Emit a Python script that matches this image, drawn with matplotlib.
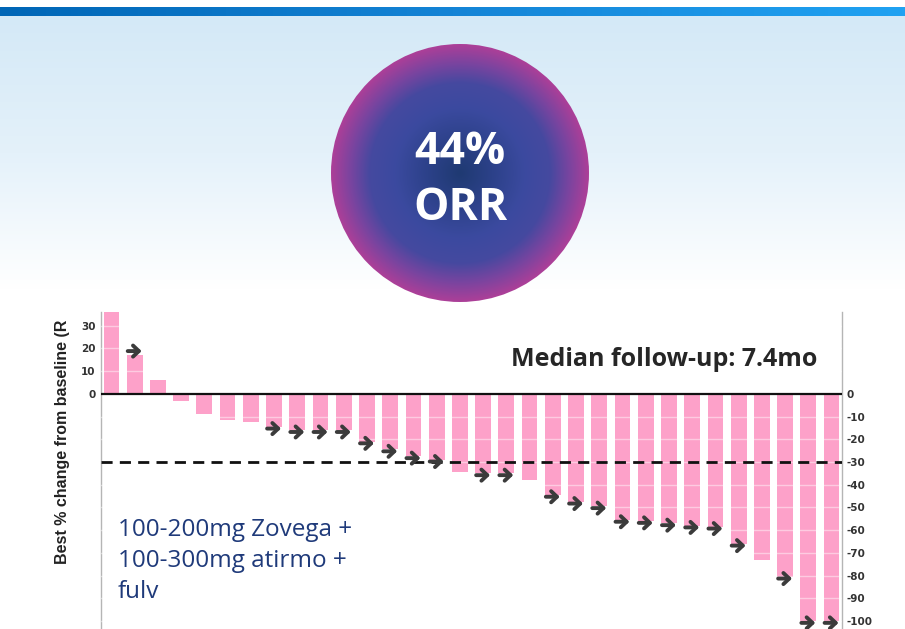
import numpy as np
import matplotlib.pyplot as plt
from matplotlib.colors import LinearSegmentedColormap
from matplotlib.patches import Circle

# Best % change from baseline per patient (waterfall order)
change = [40, 17, 6, -3, -9, -11.5, -12.5, -14.5, -16, -16, -16, -21, -24.5, -27.5,
          -29, -34.5, -35, -35, -38, -44.5, -47.5, -49.5, -55.5, -56, -57, -58,
          -58.5, -66, -73, -80.5, -100, -100]
# 1 = patient still on treatment (arrow)
ongoing = [0, 1, 0, 0, 0, 0, 0, 1, 1, 1, 1, 1, 1, 1,
           1, 0, 1, 1, 0, 1, 1, 1, 1, 1, 1, 1,
           1, 1, 0, 1, 1, 1]
left_ticks = [0, 10, 20, 30]
right_ticks = [0, -10, -20, -30, -40, -50, -60, -70, -80, -90, -100]
pr_threshold = -30
follow_up = "Median follow-up: 7.4mo"
regimen = "100-200mg Zovega +\n100-300mg atirmo +\nfulv"
ylabel = "Best % change from baseline (R"

W, H = 905, 629
fig = plt.figure(figsize=(W / 100, H / 100), dpi=100)

# slide background: header bar + light blue wash
bg = fig.add_axes([0, 0, 1, 1])
bg.set_xlim(0, W)
bg.set_ylim(H, 0)
bg.axis("off")
wash = LinearSegmentedColormap.from_list("wash", ["#d4e9f7", "#e4f1fa", "#ffffff"])
bg.imshow(np.linspace(0, 1, 256)[:, None], cmap=wash, aspect="auto",
          extent=(0, W, 290, 16), zorder=0)
bar_cm = LinearSegmentedColormap.from_list("hdr", ["#0066b6", "#1484d6", "#20a2f2"])
bg.imshow(np.linspace(0, 1, 256)[None, :], cmap=bar_cm, aspect="auto",
          extent=(0, W, 16, 7), zorder=1)

# ORR bubble with radial gradient
cx, cy, rad = 460, 173, 129
xs = np.linspace(cx - rad, cx + rad, 400)
ys = np.linspace(cy - rad, cy + rad, 400)
gx, gy = np.meshgrid(xs, ys)
rr = np.sqrt((gx - cx) ** 2 + (gy - cy) ** 2) / rad
bubble = LinearSegmentedColormap.from_list(
    "bubble", [(0, "#1f3a72"), (0.25, "#2c4189"), (0.5, "#3b4a9f"),
               (0.7, "#4549a0"), (0.86, "#7c449f"), (1, "#ac3f98")])
im = bg.imshow(np.clip(rr, 0, 1), cmap=bubble, vmin=0, vmax=1,
               extent=(cx - rad, cx + rad, cy + rad, cy - rad), zorder=2)
circ = Circle((cx, cy), rad, transform=bg.transData, facecolor="none", edgecolor="none")
bg.add_patch(circ)
im.set_clip_path(circ)
bg.text(cx, 152, "44%", color="white", fontsize=32, fontweight="bold",
        family="Open Sans", ha="center", va="center", zorder=3)
bg.text(cx, 209, "ORR", color="white", fontsize=32, fontweight="bold",
        family="Open Sans", ha="center", va="center", zorder=3)

# waterfall plot
ax = fig.add_axes([101 / W, 0, (842 - 101) / W, (H - 312) / H])
ax.set_facecolor("white")
x = np.arange(len(change))
ax.bar(x, change, width=0.68, color="#fda1c9", zorder=2)
ax.set_xlim(-0.45, len(change) - 0.55)
ax.set_ylim(-103.5, 36)

for g in range(-100, 40, 10):
    if g != 0:
        ax.axhline(g, color="white", lw=1, alpha=0.45, zorder=3)
ax.axhline(0, color="#111111", lw=1.6, zorder=4)
ax.axhline(pr_threshold, color="#111111", lw=2, ls=(0, (4, 2.6)), zorder=4)

# arrows for ongoing patients
for xi, v, on in zip(x, change, ongoing):
    if on:
        yy = v + 1.8 if v > 0 else v - 0.8
        ax.annotate("", xy=(xi + 0.3, yy), xytext=(xi - 0.3, yy),
                    arrowprops=dict(arrowstyle="->,head_length=0.42,head_width=0.4",
                                    lw=2.8, color="#3b3b3b", shrinkA=0, shrinkB=0,
                                    capstyle="round", joinstyle="round"),
                    zorder=5, annotation_clip=False)

for s in ["top", "bottom"]:
    ax.spines[s].set_visible(False)
for s in ["left", "right"]:
    ax.spines[s].set_color("#b5b5b5")
    ax.spines[s].set_linewidth(1)
ax.set_xticks([])
narrow = ["Liberation Sans Narrow", "DejaVu Sans"]
ax.set_yticks(left_ticks)
ax.set_yticklabels([str(t) for t in left_ticks], fontsize=7.5, fontweight="bold",
                   family=narrow, color="#333333")
ax.tick_params(axis="y", length=0, pad=4)

ax2 = ax.twinx()
ax2.set_ylim(ax.get_ylim())
ax2.set_yticks(right_ticks)
ax2.set_yticklabels([str(t) for t in right_ticks], fontsize=7.5, fontweight="bold",
                    family=narrow, color="#333333")
ax2.tick_params(axis="y", length=0, pad=3)
for s in ["top", "bottom", "left", "right"]:
    ax2.spines[s].set_visible(False)

fig.text(62 / W, 1 - 442 / H, ylabel, rotation=90, fontsize=11.5, fontweight="bold",
         family="Liberation Sans", color="#222222", ha="center", va="center")

fig.text(664 / W, 1 - 359 / H, follow_up, fontsize=18, fontweight="bold",
         family="Open Sans", color="#262626", ha="center", va="center", zorder=6)

fig.text(118 / W, 1 - 561 / H, regimen, fontsize=17.5, family="Open Sans",
         color="#1f3a7a", ha="left", va="center", linespacing=1.4)

fig.savefig("out.png", dpi=100)
